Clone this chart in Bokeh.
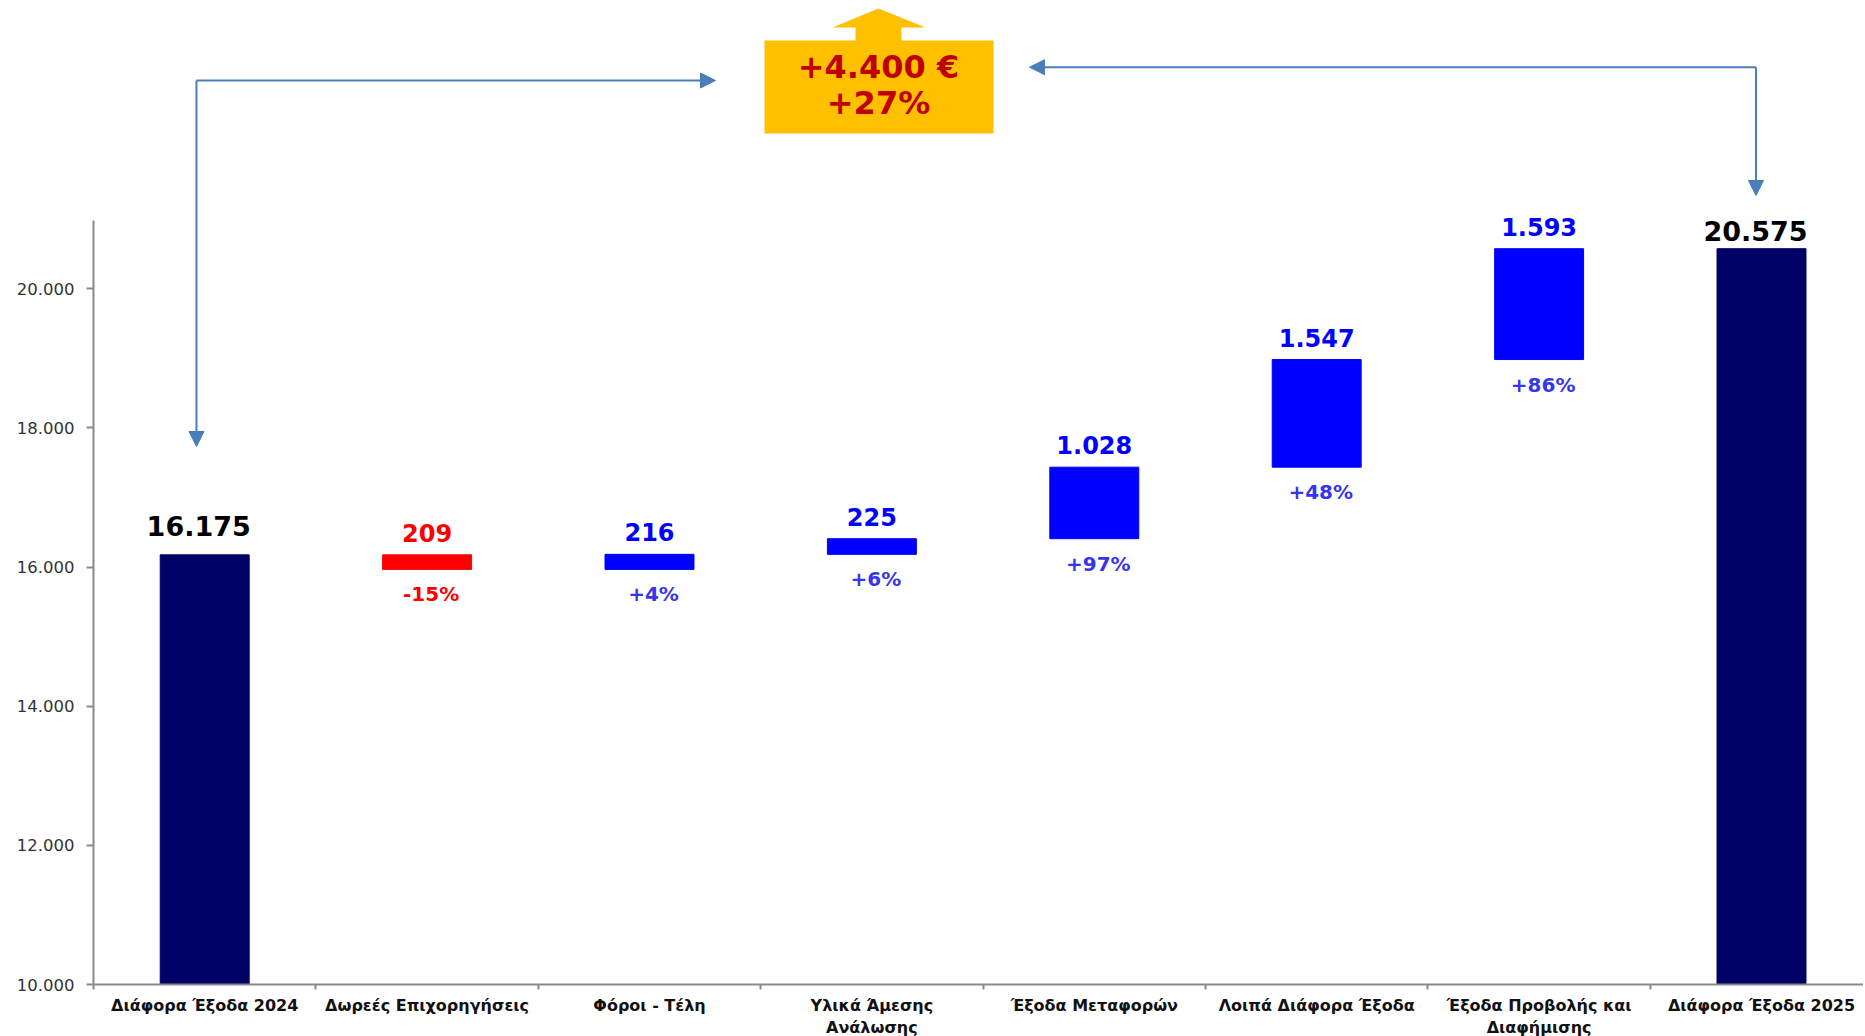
from bokeh.plotting import figure
from bokeh.models import Range1d, FixedTicker, ColumnDataSource, Arrow, NormalHead
from bokeh.core.properties import value
from bokeh.embed import file_html
from bokeh.resources import INLINE

# ---------------- data ----------------
categories = ["Διάφορα Έξοδα 2024", "Δωρεές Επιχορηγήσεις", "Φόροι - Τέλη",
              "Υλικά Άμεσης\nΑνάλωσης", "Έξοδα Μεταφορών", "Λοιπά Διάφορα Έξοδα",
              "Έξοδα Προβολής και\nΔιαφήμισης", "Διάφορα Έξοδα 2025"]
start_total = 16175
changes = [-209, 216, 225, 1028, 1547, 1593]
end_total = 20575
pct_labels = ["-15%", "+4%", "+6%", "+97%", "+48%", "+86%"]
y_ticks = [10000, 12000, 14000, 16000, 18000, 20000]
y_tick_labels = ["10.000", "12.000", "14.000", "16.000", "18.000", "20.000"]
headline_amount = "+4.400 €"
headline_pct = "+27%"

# ---------------- styles ----------------
NAVY = "#000066"
BLUE = "#0000FF"
RED = "#FF0000"
PCT_BLUE = "#3535EE"
ARROW = "#4A7EBB"
YELLOW = "#FFC000"
DARKRED = "#C00000"
AXIS = "#8A8A8A"
FONT = "DejaVu Sans"

# frame geometry (screen px of the reference)
FRAME_LEFT, FRAME_TOP = 93, 8
FRAME_W, FRAME_H = 1770, 976
CAT_PX = 222.4
PX_PER_UNIT = 0.06958
Y_MIN = 10000
Y_MAX = Y_MIN + FRAME_H / PX_PER_UNIT
X_MAX = FRAME_W / CAT_PX


def xd(sx):  # reference screen x -> data x
    return (sx - FRAME_LEFT) / CAT_PX


def yd(sy):  # reference screen y -> data y
    return Y_MIN + (FRAME_TOP + FRAME_H - sy) / PX_PER_UNIT


def fmt(v):
    return f"{abs(v):,}".replace(",", ".")


n = len(categories)
centers = [i + 0.5 for i in range(n)]

# waterfall geometry from the values
run = start_total
ch_top, ch_bot, ch_col, ch_pcol = [], [], [], []
for c in changes:
    if c >= 0:
        ch_bot.append(run)
        ch_top.append(run + c)
        ch_col.append(BLUE)
        ch_pcol.append(PCT_BLUE)
    else:
        ch_top.append(run)
        ch_bot.append(run + c)
        ch_col.append(RED)
        ch_pcol.append(RED)
    run += c

ch_src = ColumnDataSource(dict(
    x=centers[1:-1], top=ch_top, bottom=ch_bot, color=ch_col, pcolor=ch_pcol,
    label=[fmt(c) for c in changes], pct=pct_labels))
tot_src = ColumnDataSource(dict(
    x=[centers[0], centers[-1]], top=[start_total, end_total],
    bottom=[Y_MIN, Y_MIN], label=[fmt(start_total), fmt(end_total)]))

p = figure(frame_width=FRAME_W, frame_height=FRAME_H,
           x_range=Range1d(0, X_MAX), y_range=Range1d(Y_MIN, Y_MAX),
           output_backend="svg", toolbar_location=None,
           min_border_left=FRAME_LEFT, min_border_right=0, min_border_top=FRAME_TOP,
           min_border_bottom=0)
p.outline_line_color = None
p.xgrid.visible = False
p.ygrid.visible = False
p.background_fill_color = "white"
p.border_fill_color = "white"

# y axis
p.yaxis.ticker = FixedTicker(ticks=y_ticks)
p.yaxis.major_label_overrides = {t: l for t, l in zip(y_ticks, y_tick_labels)}
p.yaxis.bounds = (Y_MIN, yd(220))
p.yaxis.axis_line_color = AXIS
p.yaxis.axis_line_width = 2
p.yaxis.major_tick_line_color = AXIS
p.yaxis.major_tick_line_width = 2
p.yaxis.major_tick_out = 7
p.yaxis.major_tick_in = 0
p.yaxis.minor_tick_line_color = None
p.yaxis.major_label_standoff = 12
p.yaxis.major_label_text_font = FONT
p.yaxis.major_label_text_font_size = "16.5px"
p.yaxis.major_label_text_color = "#333333"

# x axis: labels at category centres, tick marks at category boundaries
p.xaxis.ticker = FixedTicker(ticks=centers, minor_ticks=list(range(n)))
p.xaxis.major_label_overrides = {c: lab for c, lab in zip(centers, categories)}
p.xaxis.axis_line_color = AXIS
p.xaxis.axis_line_width = 2
p.xaxis.minor_tick_line_color = AXIS
p.xaxis.minor_tick_line_width = 2
p.xaxis.minor_tick_out = 5
p.xaxis.minor_tick_in = 0
p.xaxis.major_tick_line_color = None
p.xaxis.major_tick_out = 0
p.xaxis.major_tick_in = 0
p.xaxis.major_label_standoff = 6
p.xaxis.major_label_text_font = FONT
p.xaxis.major_label_text_font_style = "bold"
p.xaxis.major_label_text_font_size = "16px"
p.xaxis.major_label_text_color = "#111111"
p.xaxis.major_label_text_line_height = 1.2

# bars
p.vbar(x="x", top="top", bottom="bottom", width=0.4, color=NAVY, source=tot_src)
p.vbar(x="x", top="top", bottom="bottom", width=0.4, color="color", source=ch_src)

# value labels
p.text(x=[centers[0]], y=[start_total], text=[fmt(start_total)], text_align="center",
       text_baseline="middle", y_offset=-29, x_offset=-6,
       text_font=value(FONT), text_font_style="bold", text_font_size="27px", text_color="#000000")
p.text(x=[centers[-1]], y=[end_total], text=[fmt(end_total)], text_align="center",
       text_baseline="middle", y_offset=-18, x_offset=-6,
       text_font=value(FONT), text_font_style="bold", text_font_size="27px", text_color="#000000")
p.text(x="x", y="top", text="label", source=ch_src, text_align="center",
       text_baseline="middle", y_offset=-22,
       text_font=value(FONT), text_font_style="bold", text_font_size="24px", text_color="color")
p.text(x="x", y="bottom", text="pct", source=ch_src, text_align="center",
       text_baseline="middle", y_offset=25, x_offset=4,
       text_font=value(FONT), text_font_style="bold", text_font_size="20px", text_color="pcolor")

# yellow headline arrow-box
box_sx = [764, 764, 855, 855, 832, 878, 925, 901, 901, 993, 993]
box_sy = [133, 40, 40, 27, 27, 8, 27, 27, 40, 40, 133]
p.patch([xd(v) for v in box_sx], [yd(v) for v in box_sy], color=YELLOW, line_width=0)
p.text(x=[xd(878)] * 2, y=[yd(66), yd(102)], text=[headline_amount, headline_pct],
       text_align="center", text_baseline="middle",
       text_font=value(FONT), text_font_style="bold", text_font_size="32px", text_color=DARKRED)

# connector arrows
def add_arrow(x0, y0, x1, y1):
    p.add_layout(Arrow(x_start=xd(x0), y_start=yd(y0), x_end=xd(x1), y_end=yd(y1),
                       line_color=ARROW, line_width=2,
                       end=NormalHead(size=15, fill_color=ARROW, line_color=ARROW)))

add_arrow(196, 80, 715, 80)
add_arrow(196, 80, 196, 446)
add_arrow(1755.5, 66.7, 1029, 66.7)
add_arrow(1755.5, 66.7, 1755.5, 195)

open("out.html", "w").write(file_html(p, INLINE))
